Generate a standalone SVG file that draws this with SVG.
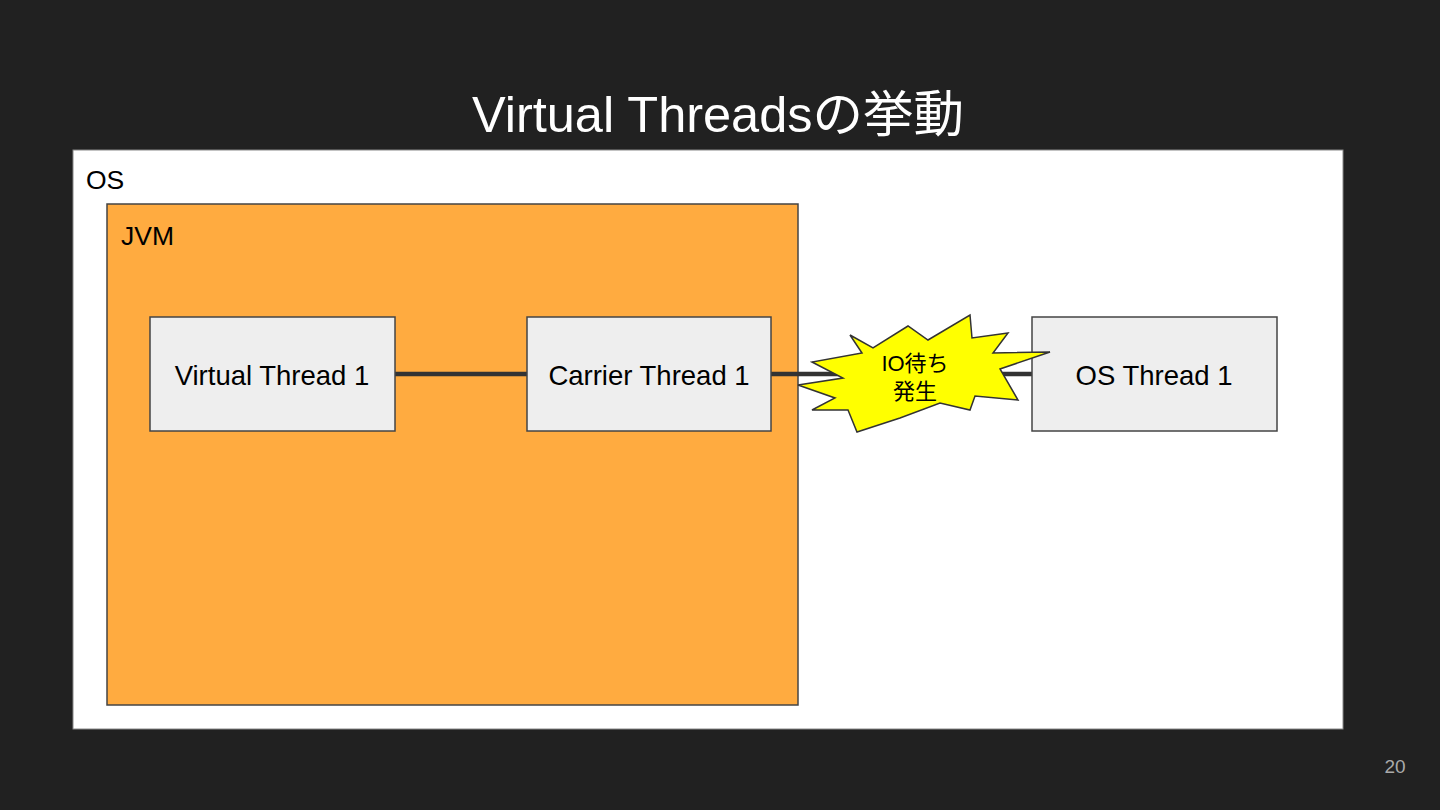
<svg xmlns="http://www.w3.org/2000/svg" width="1440" height="810" viewBox="0 0 1440 810">
<style>
text{font-family:"Liberation Sans","Noto Sans CJK JP",sans-serif;}
.box{fill:#eeeeee;stroke:#444444;stroke-width:1.5;}
.lbl{font-size:27.5px;fill:#000;text-anchor:middle;}
.conn{stroke:#333333;stroke-width:4.5;fill:none;}
</style>
<rect x="0" y="0" width="1440" height="810" fill="#212121"/>
<text x="718" y="132" font-size="50.5" fill="#ffffff" text-anchor="middle">Virtual Threadsの挙動</text>
<g id="os">
<rect x="73" y="150" width="1270" height="579" fill="#ffffff" stroke="#888888" stroke-width="1"/>
<text x="86" y="189" font-size="26.5" fill="#000">OS</text>
</g>
<g id="jvm">
<rect x="107" y="204" width="691" height="501" fill="#ffab40" stroke="#444444" stroke-width="1.5"/>
<text x="121" y="245" font-size="26.5" fill="#000">JVM</text>
</g>
<g id="connectors">
<line class="conn" x1="395" y1="374" x2="527" y2="374"/>
<line class="conn" x1="771" y1="374" x2="1032" y2="374"/>
</g>
<g id="vt1">
<rect class="box" x="150" y="317" width="245" height="114"/>
<text class="lbl" x="272" y="385">Virtual Thread 1</text>
</g>
<g id="ct1">
<rect class="box" x="527" y="317" width="244" height="114"/>
<text class="lbl" x="649" y="385">Carrier Thread 1</text>
</g>
<g id="ost1">
<rect class="box" x="1032" y="317" width="245" height="114"/>
<text class="lbl" x="1154" y="385">OS Thread 1</text>
</g>
<g id="io">
<polygon points="850,335 873,348 908,326 928,340 970,315 972,338 1008,333 993,353 1050,352 1000,369 1018,400 975,396 970,410 940,403 900,418 857,432 848,410 812,410 835,398 798,385 843,378 812,362 862,353" fill="#ffff00" stroke="#333333" stroke-width="1.5" stroke-linejoin="miter"/>
<text x="915" y="371" font-size="22" fill="#000" text-anchor="middle">IO待ち</text>
<text x="915" y="399" font-size="22" fill="#000" text-anchor="middle">発生</text>
</g>
<text x="1395" y="773" font-size="19" fill="#aaaaaa" text-anchor="middle">20</text>
</svg>
